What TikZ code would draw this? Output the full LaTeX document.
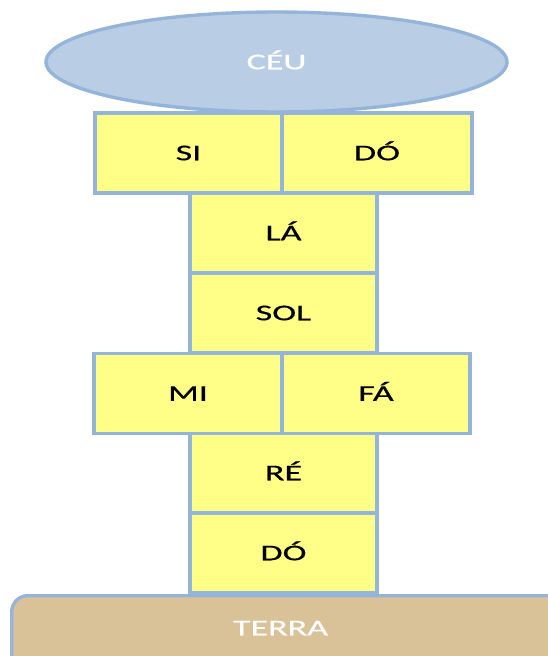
\documentclass[tikz,border=0pt]{standalone}
\usepackage{fontspec}
\setmainfont{Carlito}[FakeStretch=1.6, FakeBold=0.6]
\usetikzlibrary{shapes.geometric}
\definecolor{edgeblue}{RGB}{149,180,218}
\definecolor{skyfill}{RGB}{185,205,229}
\definecolor{stepyellow}{RGB}{255,255,136}
\definecolor{earth}{RGB}{217,194,152}
\tikzset{
  label font/.style={font=\fontsize{22.5}{26}\selectfont, text height=14.5pt, text depth=0pt},
  cell/.style={draw=edgeblue, line width=3.4pt, fill=stepyellow, rectangle,
    inner sep=0pt, minimum height=80pt, label font, text=black},
}
\begin{document}
\begin{tikzpicture}[x=1pt,y=-1pt]
  \useasboundingbox (0,0) rectangle (548,656);
  \clip (0,0) rectangle (548,656);
  % ground
  \node[draw=edgeblue, line width=3.4pt, fill=earth, rounded corners=16pt,
        minimum width=560pt, minimum height=90pt, inner sep=0pt,
        anchor=north west] (terra) at (10,594) {};
  \node[label font, text=white] (terratext) at (280.5,628) {TERRA};
  % central column
  \node[cell, minimum width=187pt] (do1) at (283.5,553) {DÓ};
  \node[cell, minimum width=187pt] (re)  at (283.5,473) {RÉ};
  \node[cell, minimum width=188pt] (mi)  at (188,393.5) {MI};
  \node[cell, minimum width=188pt] (fa)  at (376,393.5) {FÁ};
  \node[cell, minimum width=187pt] (sol) at (283.5,313) {SOL};
  \node[cell, minimum width=187pt] (la)  at (283.5,233) {LÁ};
  \node[cell, minimum width=187pt] (si)  at (188.5,153) {SI};
  \node[cell, minimum width=190pt] (do2) at (377,153) {DÓ};
  % sky
  \node[ellipse, draw=edgeblue, line width=3.4pt, fill=skyfill,
        minimum width=461pt, minimum height=100pt, inner sep=0pt,
        label font, text=white] (ceu) at (276.5,62) {CÉU};
\end{tikzpicture}
\end{document}
